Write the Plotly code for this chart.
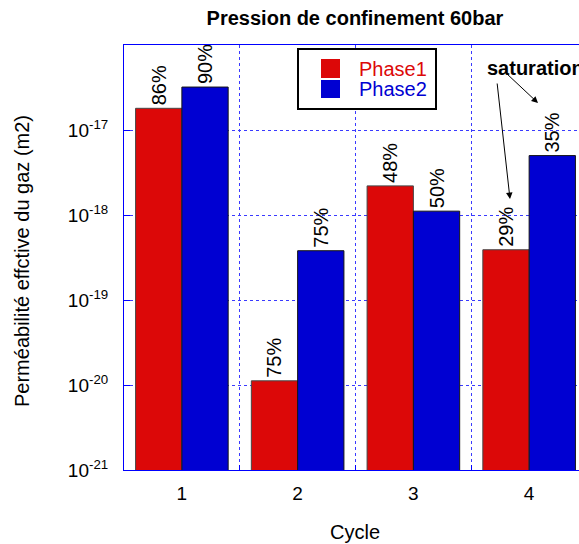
import plotly.graph_objects as go

cycles = [1, 2, 3, 4]
phase1 = [1.8e-17, 1.12e-20, 2.2e-18, 3.9e-19]
phase2 = [3.2e-17, 3.8e-19, 1.11e-18, 5.0e-18]
labels1 = ["86%", "75%", "48%", "29%"]
labels2 = ["90%", "75%", "50%", "35%"]
ytick_vals = [1e-21, 1e-20, 1e-19, 1e-18, 1e-17]
ytick_text = ["10<sup>-21</sup>", "10<sup>-20</sup>", "10<sup>-19</sup>", "10<sup>-18</sup>", "10<sup>-17</sup>"]
xgrid_vals = [1.5, 2.5, 3.5]

FONT = "Liberation Sans, Arial, Helvetica, sans-serif"
RED = "#DC0808"
BLUE = "#0000D2"
AXC = "#0000FF"
GRIDC = "#3A3AFF"

# the figure is wider than the window: the plot's right edge falls outside
W, H = 600, 544
L, R, T, B = 124, 13, 45, 74
PW = W - L - R
PH = H - T - B

def px(x):
    return (x - L) / PW

def py(y):
    return (H - B - y) / PH

fig = go.Figure()
fig.add_trace(go.Bar(
    x=cycles, y=phase1, name="Phase1",
    marker=dict(color=RED, line=dict(color="rgb(70,70,70)", width=1)),
    text=labels1, textposition="outside", textangle=-90,
    textfont=dict(family=FONT, size=20, color="black"),
    constraintext="none", cliponaxis=False,
))
fig.add_trace(go.Bar(
    x=cycles, y=phase2, name="Phase2",
    marker=dict(color=BLUE, line=dict(color="rgb(20,20,20)", width=1)),
    text=labels2, textposition="outside", textangle=-90,
    textfont=dict(family=FONT, size=20, color="black"),
    constraintext="none", cliponaxis=False,
))

fig.update_layout(
    width=W, height=H,
    margin=dict(l=L, r=R, t=T, b=B, pad=0),
    paper_bgcolor="white", plot_bgcolor="white",
    barmode="group", bargap=0.2, bargroupgap=0,
    showlegend=False,
    font=dict(family=FONT, size=19, color="black"),
    title=dict(
        text="<b>Pression de confinement 60bar</b>",
        x=px(355), xref="paper", xanchor="center",
        y=1 - 18 / H, yref="container", yanchor="middle",
        font=dict(family=FONT, size=20, color="black"),
    ),
)

fig.update_xaxes(
    range=[0.5, 4.5],
    tickmode="array", tickvals=cycles, ticktext=[str(c) for c in cycles],
    showgrid=False, zeroline=False,
    showline=True, linecolor=AXC, linewidth=1, mirror=True,
    ticks="", ticklabelstandoff=6,
    tickfont=dict(family=FONT, size=19, color="black"),
    minor=dict(tickvals=xgrid_vals, showgrid=True, gridcolor=GRIDC,
               griddash="dot", gridwidth=1, ticks="inside", ticklen=5, tickcolor=AXC),
)
fig.update_yaxes(
    type="log", range=[-21, -16],
    tickmode="array", tickvals=ytick_vals, ticktext=ytick_text,
    showgrid=True, gridcolor=GRIDC, griddash="dot", gridwidth=1,
    zeroline=False,
    showline=True, linecolor=AXC, linewidth=1, mirror=True,
    ticks="inside", ticklen=6, tickcolor=AXC,
    ticklabelstandoff=11,
    tickfont=dict(family=FONT, size=19, color="black"),
)

annotations = [
    dict(text="Cycle", x=px(355), y=py(532), xref="paper", yref="paper",
         showarrow=False, xanchor="center", yanchor="middle",
         font=dict(family=FONT, size=20, color="black")),
    dict(text="Perméabilité effctive du gaz (m2)", x=px(22), y=py(261),
         xref="paper", yref="paper", showarrow=False, textangle=-90,
         xanchor="center", yanchor="middle",
         font=dict(family=FONT, size=20, color="black")),
    dict(text="Phase1", x=px(357), y=py(68.5), xref="paper", yref="paper",
         showarrow=False, xanchor="left", yanchor="middle",
         font=dict(family=FONT, size=20, color=RED)),
    dict(text="Phase2", x=px(357), y=py(89), xref="paper", yref="paper",
         showarrow=False, xanchor="left", yanchor="middle",
         font=dict(family=FONT, size=20, color=BLUE)),
    dict(text="<b>saturation</b>", x=px(485), y=py(68), xref="paper", yref="paper",
         showarrow=False, xanchor="left", yanchor="middle",
         font=dict(family=FONT, size=20, color="black")),
    dict(text="", x=px(510), y=py(199), xref="paper", yref="paper",
         showarrow=True, ax=-13, ay=-117, axref="pixel", ayref="pixel",
         arrowhead=2, arrowsize=1.3, arrowwidth=1, arrowcolor="black"),
    dict(text="", x=px(538), y=py(103), xref="paper", yref="paper",
         showarrow=True, ax=-32, ay=-30, axref="pixel", ayref="pixel",
         arrowhead=2, arrowsize=1.3, arrowwidth=1, arrowcolor="black"),
]
fig.update_layout(annotations=annotations)

shapes = [
    dict(type="rect", xref="paper", yref="paper",
         x0=px(298), x1=px(436), y0=py(109), y1=py(49),
         line=dict(color="black", width=2), fillcolor="white", layer="above"),
    dict(type="rect", xref="paper", yref="paper",
         x0=px(321), x1=px(340), y0=py(78), y1=py(59),
         line=dict(width=0), fillcolor=RED, layer="above"),
    dict(type="rect", xref="paper", yref="paper",
         x0=px(321), x1=px(340), y0=py(98), y1=py(80),
         line=dict(width=0), fillcolor=BLUE, layer="above"),
]
fig.update_layout(shapes=shapes)

fig.write_html(
    "out.html",
    config={"displayModeBar": False},
    post_script="document.body.style.margin='0';document.body.style.overflow='hidden';",
)
